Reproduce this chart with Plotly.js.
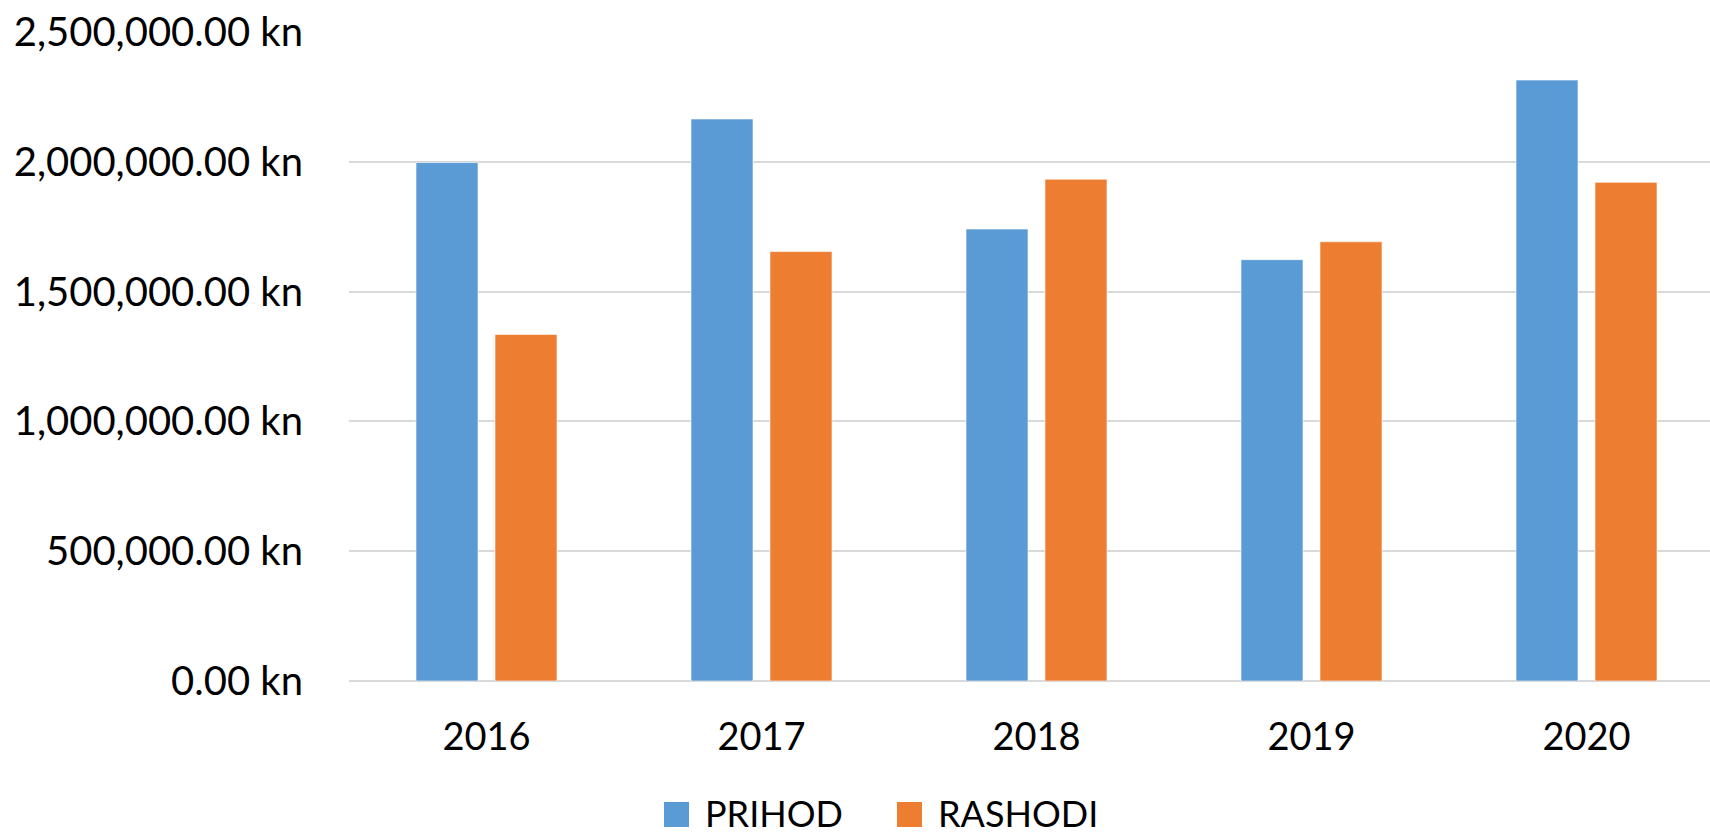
<!DOCTYPE html>
<html>
<head>
<meta charset="utf-8">
<script src="https://cdn.plot.ly/plotly-3.0.1.min.js"></script>
<style>
html, body { margin: 0; padding: 0; background: #ffffff; }
#chart { width: 1710px; height: 834px; }
</style>
</head>
<body>
<div id="chart"></div>
<script>
const years = ['2016', '2017', '2018', '2019', '2020'];
const prihod = [1997000, 2165000, 1741000, 1623000, 2315000];
const rashodi = [1335000, 1654000, 1933000, 1692000, 1921000];
const seriesNames = ['PRIHOD', 'RASHODI'];
const seriesColors = ['#5B9BD5', '#ED7D31'];

const FONT = 'Lato, "Open Sans", sans-serif';

const traces = [prihod, rashodi].map((vals, i) => ({
  type: 'bar',
  name: seriesNames[i],
  x: years,
  y: vals,
  marker: { color: seriesColors[i], line: { color: 'rgba(255,255,255,0.6)', width: 1 } },
  showlegend: false,
  hoverinfo: 'x+y+name'
}));

// plot area: x 349..1710, y 32..681
const L = 349, R = 1710, T = 32, B = 681;
const W = R - L, H = B - T;
const px = x => (x - L) / W;
const py = y => (B - y) / H;

const legendItems = [
  { sq: [664, 689], text: 703 },
  { sq: [897, 922], text: 936 }
];
const shapes = legendItems.map((it, i) => ({
  type: 'rect', xref: 'paper', yref: 'paper',
  x0: px(it.sq[0]), x1: px(it.sq[1]), y0: py(827), y1: py(802),
  fillcolor: seriesColors[i], line: { width: 0 }
}));
const annotations = legendItems.map((it, i) => ({
  xref: 'paper', yref: 'paper', x: px(it.text), y: py(813),
  xanchor: 'left', yanchor: 'middle', showarrow: false,
  text: seriesNames[i],
  font: { family: FONT, size: 36, color: '#000000' }
}));

const layout = {
  width: 1710, height: 834,
  margin: { l: L, r: 1710 - R, t: T, b: 834 - B, pad: 0 },
  paper_bgcolor: '#ffffff', plot_bgcolor: '#ffffff',
  font: { family: FONT, size: 38, color: '#000000' },
  barmode: 'group',
  bargap: 0.4255,
  bargroupgap: 0.215,
  showlegend: false,
  xaxis: {
    type: 'category',
    range: [-0.5, -0.5 + W / 275],
    showgrid: false, zeroline: false, showline: false,
    ticks: '', ticklabelstandoff: 30,
    tickfont: { family: FONT, size: 38, color: '#000000' },
    fixedrange: true
  },
  yaxis: {
    range: [0, 2500000],
    dtick: 500000, tick0: 0,
    tickformat: ',.2f', ticksuffix: ' kn',
    showgrid: true, gridcolor: '#D9D9D9', gridwidth: 2,
    zeroline: true, zerolinecolor: '#D9D9D9', zerolinewidth: 2,
    showline: false, ticks: '', ticklabelstandoff: 45,
    tickfont: { family: FONT, size: 40, color: '#000000' },
    fixedrange: true
  },
  shapes: shapes,
  annotations: annotations
};

Plotly.newPlot('chart', traces, layout, { displayModeBar: false, staticPlot: true });
</script>
</body>
</html>
